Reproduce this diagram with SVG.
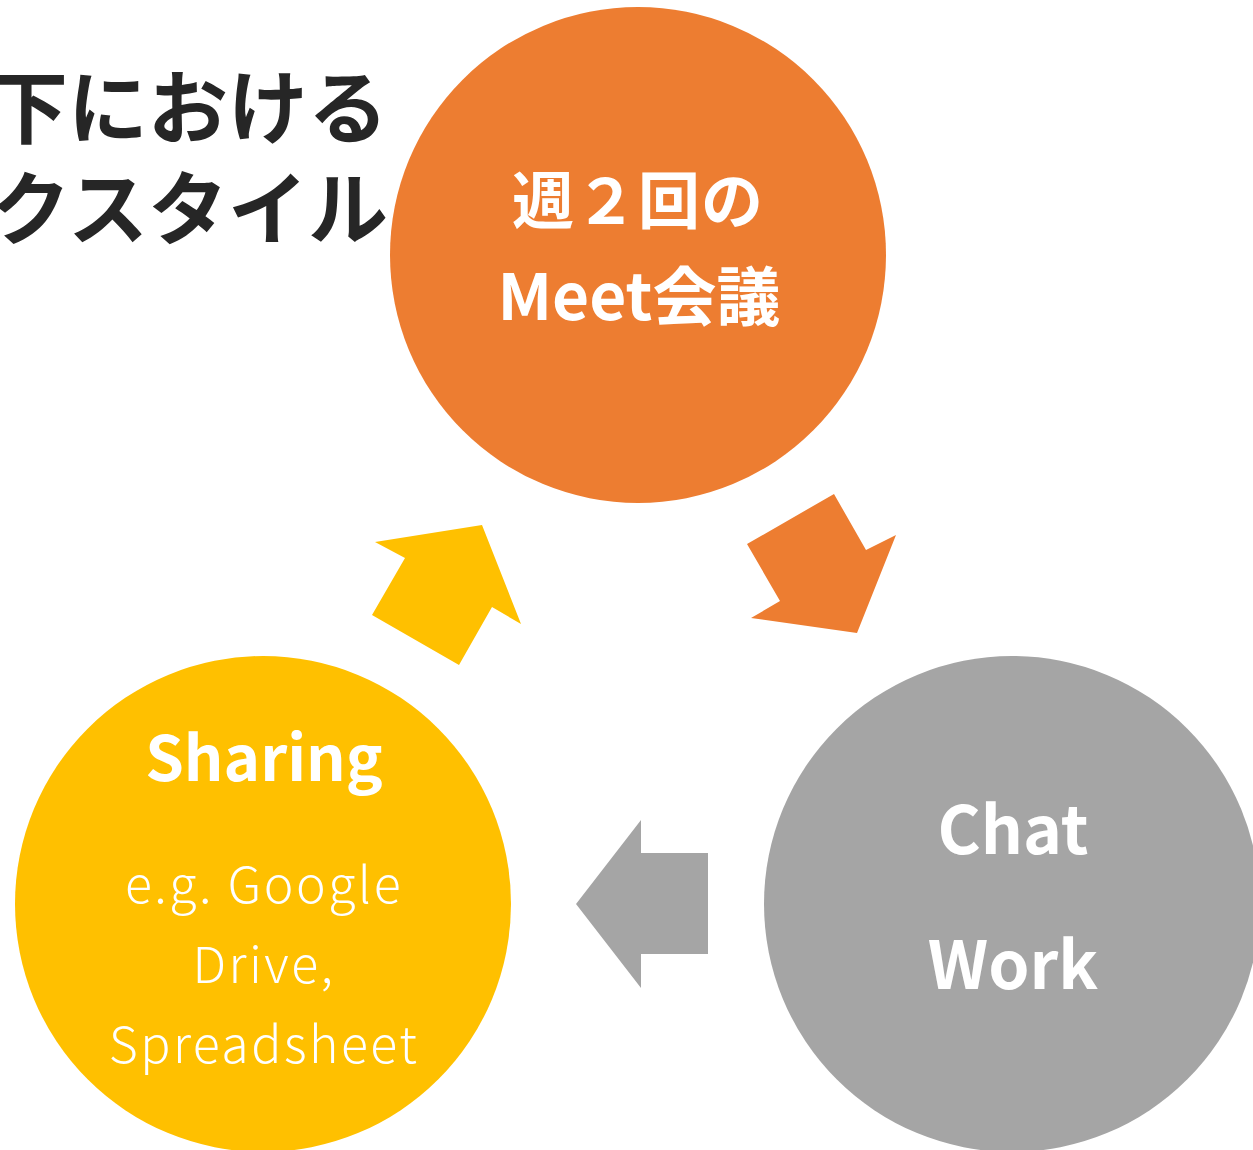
<svg xmlns="http://www.w3.org/2000/svg" width="1253" height="1150" viewBox="0 0 1253 1150">
<style>
.t{font-family:"Noto Sans CJK JP","Noto Sans",sans-serif;fill:#fff;text-anchor:middle}
.b{font-weight:700}
.m{font-weight:600}
.l{font-weight:300;letter-spacing:2.5px}
.title{font-family:"Noto Sans CJK JP",sans-serif;font-weight:700;fill:#262626;font-size:80px;text-anchor:end}
</style>
<rect width="1253" height="1150" fill="#fff"/>
<g id="title">
<text class="title" x="388" y="137">下における</text>
<text class="title" x="388" y="238">クスタイル</text>
</g>
<g id="connectors">
<polygon fill="#FFC000" points="375,542 482,525 521,624 492,607 459,665 372,615 405,558"/>
<polygon fill="#ED7D31" points="747,544 834,494 866,550 896,535 857,633 751,618 780,601"/>
<polygon fill="#A5A5A5" points="576,904 641,820 641,853 708,853 708,954 641,954 641,988"/>
</g>
<g id="meet">
<circle cx="638" cy="255" r="248" fill="#ED7D31"/>
<text class="t m" x="638" y="224" font-size="62" letter-spacing="1">週２回の</text>
<text class="t m" x="639" y="320" font-size="64">Meet会議</text>
</g>
<g id="sharing">
<circle cx="263" cy="904" r="248" fill="#FFC000"/>
<text class="t b" x="264" y="781" font-size="62">Sharing</text>
<text class="t l" x="264" y="903" font-size="50">e.g. Google</text>
<text class="t l" x="264" y="983" font-size="50">Drive,</text>
<text class="t l" x="264" y="1063" font-size="50">Spreadsheet</text>
</g>
<g id="chat">
<circle cx="1012" cy="904" r="248" fill="#A5A5A5"/>
<text class="t m" x="1013" y="854" font-size="66">Chat</text>
<text class="t m" x="1013" y="989" font-size="66">Work</text>
</g>
</svg>
